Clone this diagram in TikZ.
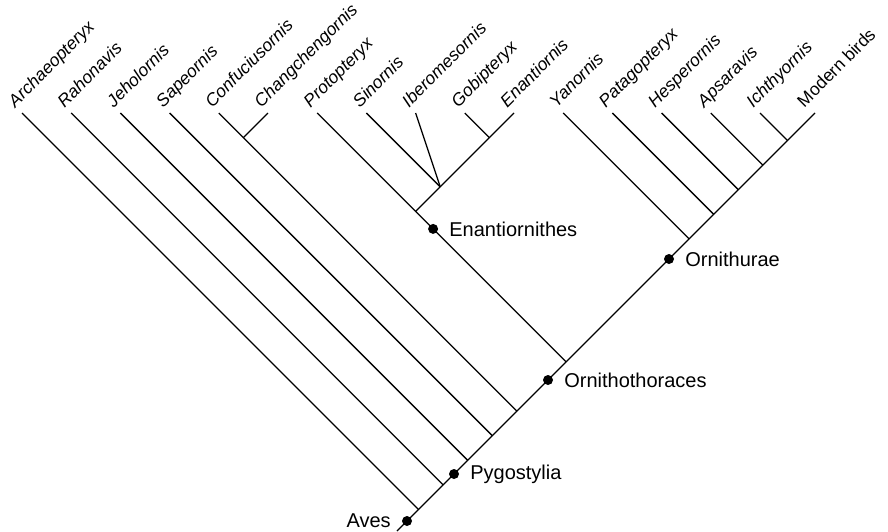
\documentclass[tikz,border=0pt]{standalone}
\usepackage{fontspec}
\setmainfont{Liberation Sans}
\usetikzlibrary{positioning}

\tikzset{
  taxon/.style={rotate=45,anchor=base west,inner sep=0pt,font=\fontsize{17.5}{21}\selectfont\itshape},
  clade/.style={inner sep=0pt,font=\fontsize{20}{24}\selectfont},
  cladedot/.style={circle,fill,inner sep=0pt,minimum size=10pt},
}

\begin{document}
\begin{tikzpicture}[x=1pt,y=-1pt,line width=1.3pt]
			\useasboundingbox (0,0) rectangle (888,531);

			% tips
			\coordinate (arch) at (22,113);
			\coordinate (raho) at (71.2,113);
			\coordinate (jeho) at (120.4,113);
			\coordinate (sape) at (169.6,113);
			\coordinate (conf) at (218.8,113);
			\coordinate (chan) at (268,113);
			\coordinate (prot) at (317.2,113);
			\coordinate (sino) at (366.4,113);
			\coordinate (iber) at (415.6,113);
			\coordinate (gobi) at (464.8,113);
			\coordinate (enan) at (514,113);
			\coordinate (yano) at (563.2,113);
			\coordinate (pata) at (612.4,113);
			\coordinate (hesp) at (661.6,113);
			\coordinate (apsa) at (710.8,113);
			\coordinate (icht) at (760,113);
			\coordinate (mode) at (815,113);

			% branch points
			\coordinate (root) at (397,531);
			\coordinate (jarch) at (418.5,509.5);
			\coordinate (jraho) at (443.1,484.9);
			\coordinate (jjeho) at (467.7,460.3);
			\coordinate (jsape) at (492.3,435.7);
			\coordinate (jconf) at (516.9,411.1);
			\coordinate (cc) at (243.4,137.6);
			\coordinate (jprot) at (566.1,361.9);
			\coordinate (en) at (415.6,211.4);
			\coordinate (poly) at (440.2,186.8);
			\coordinate (gob) at (489.4,137.6);
			\coordinate (jyano) at (689.1,238.9);
			\coordinate (jpata) at (713.7,214.3);
			\coordinate (jhesp) at (738.3,189.7);
			\coordinate (japsa) at (762.9,165.1);
			\coordinate (jicht) at (787.5,140.5);

			\draw (root) -- (mode);
			\draw (arch) -- (jarch);
			\draw (raho) -- (jraho);
			\draw (jeho) -- (jjeho);
			\draw (sape) -- (jsape);
			\draw (conf) -- (jconf);
			\draw (chan) -- (cc);
			\draw (prot) -- (jprot);
			\draw (en) -- (enan);
			\draw (sino) -- (poly);
			\draw (iber) -- (poly);
			\draw (gobi) -- (gob);
			\draw (yano) -- (jyano);
			\draw (pata) -- (jpata);
			\draw (hesp) -- (jhesp);
			\draw (apsa) -- (japsa);
			\draw (icht) -- (jicht);

			% clade dots
			\node (aves) at (407,521)[cladedot]{};
			\node (pyg) at (454,474)[cladedot]{};
			\node (orth) at (548,380)[cladedot]{};
			\node (enth) at (433.1,228.9)[cladedot]{};
			\node (orur) at (669,259)[cladedot]{};

			\node[clade,anchor=east,left=10pt of aves] (avesl) {Aves};
			\node[clade,anchor=west,right=10pt of pyg] (pygl) {Pygostylia};
			\node[clade,anchor=west,right=10pt of orth] (orthl) {Ornithothoraces};
			\node[clade,anchor=west,right=10pt of enth] (enthl) {Enantiornithes};
			\node[clade,anchor=west,right=10pt of orur] (orurl) {Ornithurae};

			% tip labels
			\node (tarch) at (15,108.5)[taxon]{Archaeopteryx};
			\node (traho) at (64.2,108.5)[taxon]{Rahonavis};
			\node (tjeho) at (113.4,108.5)[taxon]{Jeholornis};
			\node (tsape) at (162.6,108.5)[taxon]{Sapeornis};
			\node (tconf) at (211.8,108.5)[taxon]{Confuciusornis};
			\node (tchan) at (261,108.5)[taxon]{Changchengornis};
			\node (tprot) at (310.2,108.5)[taxon]{Protopteryx};
			\node (tsino) at (359.4,108.5)[taxon]{Sinornis};
			\node (tiber) at (408.6,108.5)[taxon]{Iberomesornis};
			\node (tgobi) at (457.8,108.5)[taxon]{Gobipteryx};
			\node (tenan) at (507,108.5)[taxon]{Enantiornis};
			\node (tyano) at (556.2,108.5)[taxon]{Yanornis};
			\node (tpata) at (605.4,108.5)[taxon]{Patagopteryx};
			\node (thesp) at (654.6,108.5)[taxon]{Hesperornis};
			\node (tapsa) at (703.8,108.5)[taxon]{Apsaravis};
			\node (ticht) at (753,108.5)[taxon]{Ichthyornis};
			\node (tmode) at (804,108.5)[taxon,font=\fontsize{17.5}{21}\selectfont\upshape]{Modern birds};
		\end{tikzpicture}
\end{document}
